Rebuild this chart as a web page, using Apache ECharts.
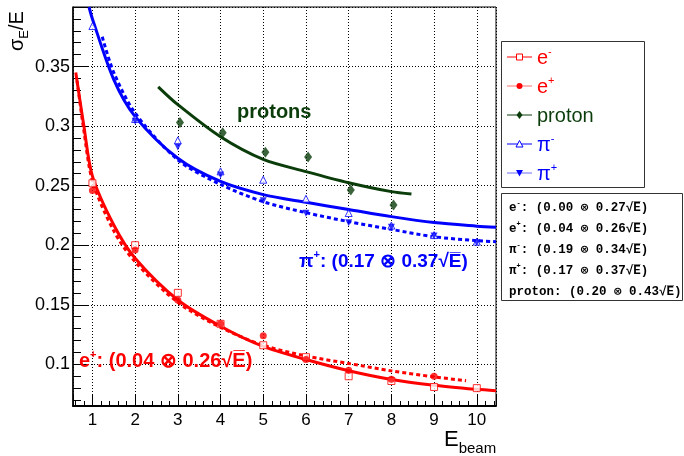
<!DOCTYPE html>
<html>
<head>
<meta charset="utf-8">
<script src="https://cdn.jsdelivr.net/npm/echarts@6/dist/echarts.min.js"></script>
<style>html,body{margin:0;padding:0;background:#fff}#chart{width:684px;height:456px}</style>
</head>
<body>
<div id="chart"></div>
<script>
// measured points
var energies = [1, 2, 3, 4, 5, 6, 7, 8, 9, 10];
var eMinus  = [0.252, 0.200, 0.160, 0.134, 0.116, 0.106, 0.090, 0.086, 0.081, 0.080];
var ePlus   = [0.246, 0.196, 0.154, 0.134, 0.124, 0.104, 0.095, 0.0875, 0.090, null];
var piMinus = [0.384, 0.306, 0.288, 0.262, 0.255, 0.239, 0.227, 0.2165, 0.2085, 0.203];
var piPlus  = [null, 0.304, 0.2825, 0.259, 0.2374, 0.2268, 0.2189, 0.2150, 0.2077, 0.2021];
var protonE = [3.05, 4.05, 5.05, 6.05, 7.05, 8.05];
var proton  = [0.303, 0.2945, 0.278, 0.274, 0.2464, 0.2338];

// fit curves
var fitEPlusE  = [0.61, 0.8, 1, 1.5, 2, 3, 4, 5, 6, 7, 8, 9, 10, 10.45];
var fitEPlus   = [0.345, 0.300, 0.258, 0.217, 0.189, 0.154, 0.132, 0.115, 0.104, 0.0946, 0.0873, 0.0825, 0.079, 0.0778];
var fitEMinusE = [0.64, 0.8, 1, 1.5, 2, 3, 4, 5, 6, 7, 8, 9, 9.75];
var fitEMinus  = [0.338, 0.296, 0.254, 0.212, 0.186, 0.152, 0.131, 0.116, 0.107, 0.1007, 0.0945, 0.0895, 0.0862];
var fitPiMinusE = [0.92, 1, 1.5, 2, 3, 4, 5, 6, 7, 8, 9, 10, 10.45];
var fitPiMinus  = [0.40, 0.390, 0.339, 0.308, 0.273, 0.2535, 0.2425, 0.236, 0.230, 0.224, 0.219, 0.216, 0.215];
var fitPiPlusE = [1.23, 1.5, 2, 3, 4, 5, 6, 7, 8, 9, 10, 10.45];
var fitPiPlus  = [0.375, 0.345, 0.311, 0.2716, 0.251, 0.2365, 0.2273, 0.2198, 0.2133, 0.2071, 0.2038, 0.203];
var fitProtonE = [2.54, 3, 4, 5, 6, 7, 8, 8.47];
var fitProton  = [0.333, 0.318, 0.291, 0.272, 0.2618, 0.2525, 0.245, 0.243];

var RED = '#ff0000', BLUE = '#0000ff', GREEN = '#0b3d0b';
var SANS = '"Liberation Sans", Arial, sans-serif';
var MONO = '"Liberation Mono", "Courier New", monospace';

function pairs(xs, ys) {
  var out = [];
  for (var i = 0; i < xs.length; i++) if (ys[i] != null) out.push([xs[i], ys[i]]);
  return out;
}

function fitLine(name, xs, ys, color, dotted) {
  return {
    name: name, type: 'line', smooth: 0.3, showSymbol: false, z: 2,
    data: pairs(xs, ys),
    lineStyle: { color: color, width: 3, type: dotted ? [4, 3] : 'solid' }
  };
}

function points(name, xs, ys, symbol, color, hollow, rotate, size) {
  return {
    name: name, type: 'scatter', z: 3, symbol: symbol, symbolSize: size || 7,
    symbolRotate: rotate || 0,
    data: pairs(xs, ys),
    itemStyle: hollow ? { color: '#fff', borderColor: color, borderWidth: 1 } : { color: color }
  };
}

var chart = echarts.init(document.getElementById('chart'));

// legend drawing helpers
var legendRows = [
  { label: '{t|e}{s|-}', color: RED, line: RED, mark: 'square' },
  { label: '{t|e}{s|+}', color: RED, line: '#ff7070', mark: 'circle' },
  { label: '{t|proton}', color: GREEN, line: GREEN, mark: 'diamond' },
  { label: '{t|π}{s|-}', color: BLUE, line: BLUE, mark: 'tri' },
  { label: '{t|π}{s|+}', color: BLUE, line: '#6f6fff', mark: 'tridown' }
];
var fitTexts = [
  '{m|e}{s|-}{m|: (0.00 ⊗ 0.27√E̅)}',
  '{m|e}{s|+}{m|: (0.04 ⊗ 0.26√E̅)}',
  '{m|π}{s|-}{m|: (0.19 ⊗ 0.34√E̅)}',
  '{m|π}{s|+}{m|: (0.17 ⊗ 0.37√E̅)}',
  '{m|proton: (0.20 ⊗ 0.43√E̅)}'
];

var graphics = [];
graphics.push({ type: 'rect', shape: { x: 501.5, y: 41.5, width: 143, height: 146 },
  style: { fill: '#fff', stroke: '#333', lineWidth: 1 }, z: 10 });
legendRows.forEach(function (r, i) {
  var y = 57 + i * 29;
  graphics.push({ type: 'line', shape: { x1: 507, y1: y, x2: 532, y2: y }, style: { stroke: r.line, lineWidth: 1 }, z: 11 });
  var cx = 519.5, mk;
  if (r.mark === 'square') mk = { type: 'rect', shape: { x: cx - 3, y: y - 3, width: 6, height: 6 }, style: { fill: '#fff', stroke: r.color } };
  else if (r.mark === 'circle') mk = { type: 'circle', shape: { cx: cx, cy: y, r: 3 }, style: { fill: r.color } };
  else if (r.mark === 'diamond') mk = { type: 'polygon', shape: { points: [[cx, y - 4], [cx + 3, y], [cx, y + 4], [cx - 3, y]] }, style: { fill: r.color } };
  else if (r.mark === 'tri') mk = { type: 'polygon', shape: { points: [[cx, y - 3.5], [cx + 3.5, y + 3], [cx - 3.5, y + 3]] }, style: { fill: '#fff', stroke: r.color } };
  else mk = { type: 'polygon', shape: { points: [[cx, y + 3.5], [cx + 3.5, y - 3], [cx - 3.5, y - 3]] }, style: { fill: r.color } };
  mk.z = 12;
  graphics.push(mk);
  graphics.push({ type: 'text', x: 537, y: y, z: 12, style: {
    text: r.label, fill: r.color, verticalAlign: 'middle',
    rich: { t: { fontSize: 20, fontFamily: SANS, fill: r.color, lineHeight: 22, verticalAlign: 'bottom' },
            s: { fontSize: 11, fontFamily: SANS, fill: r.color, lineHeight: 22, verticalAlign: 'top' } }
  } });
});
graphics.push({ type: 'rect', shape: { x: 501.5, y: 193.5, width: 181, height: 107 },
  style: { fill: '#fff', stroke: '#333', lineWidth: 1 }, z: 10 });
fitTexts.forEach(function (t, i) {
  graphics.push({ type: 'text', x: 509, y: 207 + i * 21, z: 12, style: {
    text: t, fill: '#000', verticalAlign: 'middle',
    rich: { m: { fontSize: 12.5, fontWeight: 'bold', fontFamily: MONO, lineHeight: 14, verticalAlign: 'bottom' },
            s: { fontSize: 7, fontWeight: 'bold', fontFamily: MONO, lineHeight: 14, verticalAlign: 'top' } }
  } });
});
// in-plot labels
graphics.push({ type: 'text', x: 237, y: 112, z: 12, style: { text: 'protons', fill: GREEN, font: 'bold 20px ' + SANS, verticalAlign: 'middle' } });
graphics.push({ type: 'text', x: 299, y: 260, z: 12, style: {
  text: '{t|π}{s|+}{t|: (0.17 ⊗ 0.37√E̅)}', verticalAlign: 'middle',
  rich: { t: { fontSize: 19, fontWeight: 'bold', fontFamily: SANS, fill: BLUE, lineHeight: 22, verticalAlign: 'bottom' },
          s: { fontSize: 11, fontWeight: 'bold', fontFamily: SANS, fill: BLUE, lineHeight: 22, verticalAlign: 'top' } } } });
graphics.push({ type: 'text', x: 79, y: 360, z: 12, style: {
  text: '{t|e}{s|+}{t|: (0.04 ⊗ 0.26√E̅)}', verticalAlign: 'middle',
  rich: { t: { fontSize: 20, fontWeight: 'bold', fontFamily: SANS, fill: RED, lineHeight: 22, verticalAlign: 'bottom' },
          s: { fontSize: 11, fontWeight: 'bold', fontFamily: SANS, fill: RED, lineHeight: 22, verticalAlign: 'top' } } } });
// axis titles
graphics.push({ type: 'text', x: 19, y: 51, rotation: Math.PI / 2, z: 12, style: {
  text: '{t|σ}{b|E}{t|/E}', verticalAlign: 'middle', align: 'left',
  rich: { t: { fontSize: 20, fontFamily: SANS, fill: '#000', lineHeight: 24, verticalAlign: 'top' },
          b: { fontSize: 13, fontFamily: SANS, fill: '#000', lineHeight: 24, verticalAlign: 'bottom' } } } });
graphics.push({ type: 'text', x: 444, y: 441, z: 12, style: {
  text: '{t|E}{b|beam}', verticalAlign: 'middle', align: 'left',
  rich: { t: { fontSize: 22, fontFamily: SANS, fill: '#000', lineHeight: 24, verticalAlign: 'top' },
          b: { fontSize: 15, fontFamily: SANS, fill: '#000', lineHeight: 24, verticalAlign: 'bottom', padding: [0, 0, -3, 0] } } } });

var option = {
  animation: false,
  backgroundColor: '#fff',
  grid: { left: 73, top: 7, width: 423, height: 399, show: true, borderColor: '#000', borderWidth: 1 },
  xAxis: {
    type: 'value', min: 0.545, max: 10.45, minInterval: 1, maxInterval: 1,
    axisLine: { lineStyle: { color: '#000', width: 2 } },
    axisTick: { inside: true, length: 11, lineStyle: { color: '#000' } },
    minorTick: { show: true, splitNumber: 5, length: 5, lineStyle: { color: '#000' } },
    splitLine: { show: true, lineStyle: { color: '#000', type: [1, 2], width: 1 } },
    axisLabel: { color: '#000', fontSize: 17, fontFamily: SANS, margin: 6, showMinLabel: false, showMaxLabel: false,
      formatter: function (v) { return String(Math.round(v)); } }
  },
  yAxis: {
    type: 'value', min: 0.065, max: 0.40, minInterval: 0.05, maxInterval: 0.05,
    axisLine: { show: true, lineStyle: { color: '#000', width: 1.5 } },
    axisTick: { show: true, inside: true, length: 15, lineStyle: { color: '#000' } },
    minorTick: { show: true, splitNumber: 5, length: 8, lineStyle: { color: '#000' } },
    splitLine: { show: true, lineStyle: { color: '#000', type: [1, 2], width: 1 } },
    axisLabel: { color: '#000', fontSize: 18, fontFamily: SANS, margin: 3, showMinLabel: false, showMaxLabel: false,
      formatter: function (v) { return String(+v.toFixed(2)); } }
  },
  series: [
    fitLine('e+ fit', fitEPlusE, fitEPlus, RED, false),
    fitLine('e- fit', fitEMinusE, fitEMinus, RED, true),
    fitLine('π- fit', fitPiMinusE, fitPiMinus, BLUE, false),
    fitLine('π+ fit', fitPiPlusE, fitPiPlus, BLUE, true),
    fitLine('proton fit', fitProtonE, fitProton, GREEN, false),
    points('e-', energies, eMinus, 'rect', RED, true),
    points('e+', energies, ePlus, 'circle', RED, false),
    points('proton', protonE, proton, 'diamond', GREEN, false, 0, [8, 11]),
    points('π-', energies, piMinus, 'triangle', BLUE, true),
    points('π+', energies, piPlus, 'triangle', BLUE, false, 180)
  ],
  graphic: graphics
};
chart.setOption(option);
</script>
</body>
</html>
